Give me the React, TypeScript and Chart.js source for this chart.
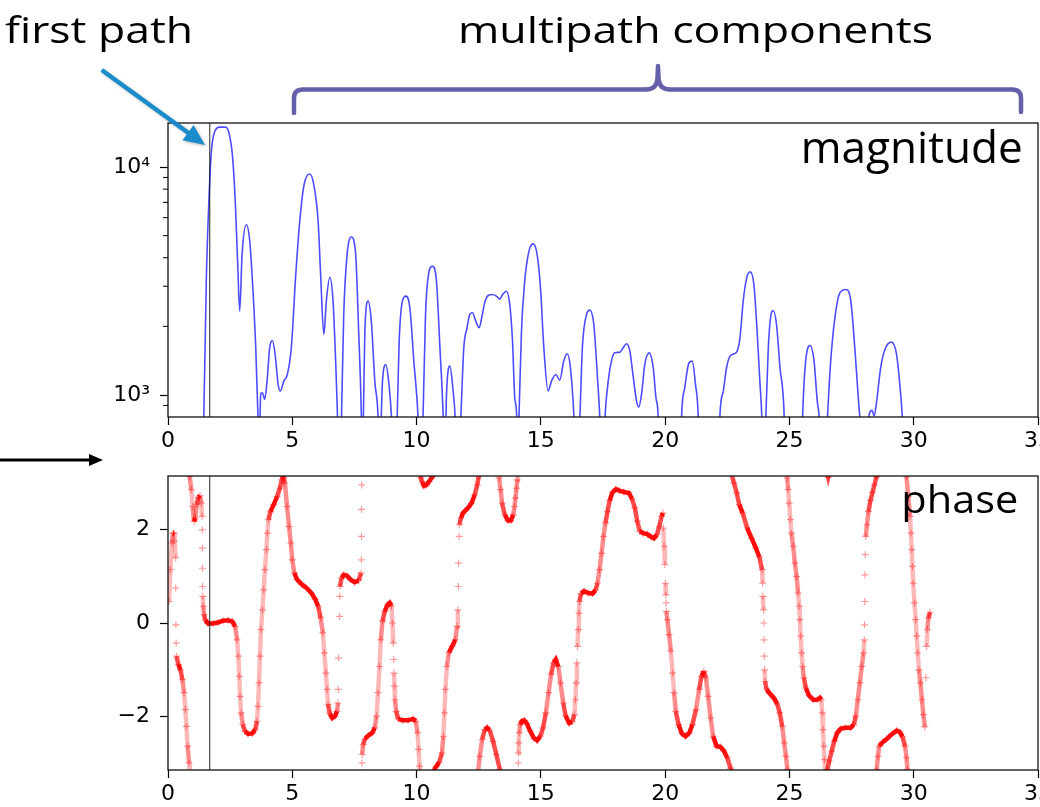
import React, { useEffect, useRef } from "react";
import { Chart, registerables } from "chart.js";

Chart.register(...registerables);
Chart.defaults.font.family = "DejaVu Sans";

// ---------- data ----------
const xTicks = [0, 5, 10, 15, 20, 25, 30, 35];
const magTicks = [1000, 10000];
const magTickLabels = ["10³", "10⁴"];
const magMinorTicks = [900, 2000, 3000, 4000, 5000, 6000, 7000, 8000, 9000];
const magRange = [801, 15600];
const phaseTicks = [-2, 0, 2];
const phaseTickLabels = ["−2", "0", "2"];
const phaseRange = [-3.1416, 3.1416];
const firstPathX = 1.68;

// magnitude |h(t)| (x = delay, y = magnitude)
const magSamples: [number, number][] = [
  [1.2, 300], [1.44, 802], [1.54, 3157], [1.65, 7310], [1.745, 11720], [1.88, 14320],
  [2.08, 14960], [2.32, 14960], [2.455, 14090], [2.59, 11320], [2.7, 7310], [2.805, 3730],
  [2.885, 2333], [2.98, 4130], [3.153, 5585], [3.29, 4720], [3.42, 2850], [3.53, 1611],
  [3.62, 802], [3.67, 600], [3.73, 1007], [3.8, 1023], [3.89, 957], [3.985, 1151],
  [4.09, 1611], [4.2, 1734], [4.31, 1507], [4.43, 1114], [4.52, 1041], [4.66, 1151],
  [4.8, 1231], [4.96, 1611], [5.14, 3376], [5.3, 5781], [5.475, 8371], [5.7, 9320],
  [5.865, 8371], [6.04, 5781], [6.14, 3376], [6.27, 1845], [6.37, 2582], [6.51, 3287],
  [6.64, 2582], [6.75, 1360], [6.82, 802], [6.91, 400], [6.98, 802], [7.07, 2256],
  [7.205, 4130], [7.38, 4932], [7.55, 4130], [7.67, 1905], [7.78, 802], [7.815, 450],
  [7.86, 802], [7.92, 1905], [8.05, 2582], [8.18, 2110], [8.32, 1151], [8.45, 802],
  [8.52, 400], [8.58, 802], [8.63, 1151], [8.76, 1360], [8.89, 1114], [8.99, 802],
  [9.1, 400], [9.22, 802], [9.3, 1722], [9.43, 2582], [9.57, 2716], [9.73, 2413],
  [9.89, 1409], [10.06, 802], [10.16, 400], [10.26, 802], [10.36, 2256], [10.48, 3376],
  [10.64, 3674], [10.8, 3157], [10.94, 1611], [11.07, 802], [11.14, 400], [11.2, 973],
  [11.34, 1339], [11.47, 1041], [11.55, 802], [11.63, 400], [11.78, 802], [11.9, 1611],
  [12.03, 1972], [12.14, 2256], [12.25, 2294], [12.38, 2110], [12.52, 1972], [12.62, 2183],
  [12.74, 2537], [12.88, 2733], [13.05, 2760], [13.21, 2716], [13.35, 2630], [13.46, 2760],
  [13.62, 2854], [13.75, 2495], [13.86, 1722], [13.95, 973], [14.03, 802], [14.06, 500],
  [14.12, 802], [14.22, 1905], [14.35, 3157], [14.52, 4273], [14.69, 4603], [14.85, 4130],
  [14.985, 2951], [15.12, 1611], [15.29, 1041], [15.43, 1151], [15.6, 1231], [15.76, 1163],
  [15.92, 1409], [16.06, 1517], [16.19, 1317], [16.33, 802], [16.43, 400], [16.57, 802],
  [16.67, 1611], [16.84, 2256], [16.97, 2356], [17.13, 2039], [17.27, 1231], [17.37, 802],
  [17.47, 400], [17.58, 802], [17.71, 1151], [17.84, 1409], [17.97, 1531], [18.18, 1541],
  [18.31, 1611], [18.45, 1678], [18.58, 1560], [18.72, 1191], [18.85, 941], [18.94, 885],
  [19.05, 1007], [19.18, 1360], [19.36, 1531], [19.52, 1317], [19.63, 973], [19.72, 802],
  [19.77, 450], [20.19, 250], [20.61, 450], [20.66, 802], [20.79, 1076], [20.96, 1386],
  [21.09, 1409], [21.22, 1114], [21.33, 802], [21.38, 450], [21.8, 250], [22.15, 450],
  [22.2, 802], [22.34, 1041], [22.47, 1317], [22.61, 1482], [22.77, 1517], [22.9, 1560],
  [23.01, 1782], [23.14, 2582], [23.28, 3265], [23.42, 3467], [23.57, 3053], [23.7, 1905],
  [23.81, 1151], [23.89, 802], [23.97, 400], [24.05, 802], [24.15, 1611], [24.24, 2183],
  [24.35, 2349], [24.48, 2039], [24.62, 1317], [24.79, 802], [24.84, 450], [25.15, 250],
  [25.48, 450], [25.53, 802], [25.64, 1360], [25.83, 1650], [25.99, 1409], [26.12, 941],
  [26.2, 802], [26.36, 400], [26.53, 802], [26.65, 1360], [26.83, 2183], [27.03, 2805],
  [27.27, 2903], [27.47, 2582], [27.63, 1611], [27.77, 973], [27.83, 802], [28.04, 400],
  [28.21, 822], [28.32, 857], [28.41, 809], [28.51, 941], [28.67, 1317], [28.87, 1611],
  [29.11, 1706], [29.31, 1507], [29.44, 1114], [29.54, 802], [29.65, 400],
];

// phase (rad); null = break where the phase wraps
const phaseSamples: ([number, number] | null)[] = [
  [0.04, 0.46], [0.095, 1.14], [0.15, 1.71], [0.2, 1.92], [0.25, 1.92], [0.27, 1.75],
  [0.31, 1.39], [0.312, 0.75], [0.32, -0.04], [0.33, -0.43], [0.34, -0.71], [0.42, -0.89],
  [0.5, -1.0], [0.58, -1.21], [0.645, -1.49], [0.7, -1.85], [0.74, -2.21], [0.79, -2.63],
  [0.85, -2.99], [0.875, -3.2],
  null,
  [0.865, 3.2], [0.87, 3.13], [0.94, 2.85], [0.99, 2.49], [1.05, 2.17], [1.1, 2.24],
  [1.156, 2.53], [1.22, 2.69], [1.29, 2.72], [1.34, 2.56], [1.37, 2.28], [1.38, 1.99],
  [1.382, 1.6], [1.385, 1.17], [1.39, 0.78], [1.4, 0.57], [1.42, 0.36], [1.45, 0.18],
  [1.5, 0.06], [1.61, -0.01], [1.81, -0.01], [2.01, 0.01], [2.21, 0.05], [2.42, 0.06],
  [2.59, 0.03], [2.7, -0.07], [2.78, -0.36], [2.83, -0.71], [2.87, -1.14], [2.9, -1.57],
  [2.94, -1.92], [3.01, -2.17], [3.09, -2.31], [3.22, -2.37], [3.39, -2.36], [3.51, -2.28],
  [3.58, -2.1], [3.62, -1.78], [3.66, -1.28], [3.7, -0.71], [3.74, -0.14], [3.8, 0.28],
  [3.85, 0.71], [3.9, 1.14], [3.96, 1.57], [4.0, 1.92], [4.04, 2.21], [4.12, 2.38],
  [4.25, 2.53], [4.39, 2.7], [4.5, 2.88], [4.58, 3.06], [4.62, 3.13], [4.66, 3.1],
  [4.7, 2.99], [4.79, 2.49], [4.87, 2.06], [4.94, 1.71], [5.0, 1.35], [5.08, 1.07],
  [5.19, 0.93], [5.37, 0.83], [5.57, 0.75], [5.77, 0.64], [5.92, 0.51], [6.04, 0.36],
  [6.14, 0.11], [6.23, -0.21], [6.29, -0.64], [6.35, -1.07], [6.4, -1.42], [6.44, -1.74],
  [6.51, -1.94], [6.61, -2.03], [6.72, -1.99], [6.8, -1.89], [6.84, -1.71], [6.85, -1.42],
  [6.86, -0.75], [6.9, 0.14], [6.91, 0.57], [6.92, 0.78], [6.98, 0.96], [7.07, 1.03],
  [7.2, 1.01], [7.34, 0.93], [7.51, 0.87], [7.67, 0.91], [7.77, 1.07], [7.78, 1.35],
  [7.785, 1.85], [7.79, 2.43], [7.795, 2.95], [7.8, 3.2],
  null,
  [7.8, -3.2], [7.805, -2.99], [7.81, -2.81], [7.85, -2.6], [7.92, -2.48], [8.05, -2.41],
  [8.21, -2.35], [8.32, -2.24], [8.39, -1.99], [8.45, -1.49], [8.51, -0.93], [8.56, -0.36],
  [8.63, 0.04], [8.72, 0.25], [8.83, 0.39], [8.92, 0.43], [8.99, 0.36], [9.03, 0.0],
  [9.06, -0.43], [9.08, -0.78], [9.09, -1.07], [9.11, -1.35], [9.13, -1.64], [9.18, -1.89],
  [9.26, -2.05], [9.43, -2.08], [9.66, -2.08], [9.86, -2.05], [9.97, -2.1], [10.04, -2.35],
  [10.08, -2.7], [10.12, -3.06], [10.135, -3.2],
  null,
  [10.135, 3.2], [10.17, 3.1], [10.22, 3.02], [10.3, 2.93], [10.4, 2.95], [10.5, 3.02],
  [10.64, 3.13], [10.66, 3.2],
  null,
  [10.66, -3.2], [10.77, -3.08], [10.91, -2.98], [11.02, -2.78], [11.08, -2.42], [11.12, -1.92],
  [11.16, -1.42], [11.22, -0.93], [11.3, -0.63], [11.43, -0.5], [11.56, -0.36], [11.63, -0.07],
  [11.66, 0.28], [11.68, 0.78], [11.69, 1.28], [11.71, 1.85], [11.72, 2.1], [11.78, 2.24],
  [11.87, 2.35], [12.07, 2.46], [12.21, 2.56], [12.34, 2.74], [12.44, 2.95], [12.5, 3.13],
  [12.52, 3.2],
  null,
  [12.47, -3.2], [12.54, -2.85], [12.64, -2.49], [12.74, -2.28], [12.84, -2.24], [12.94, -2.29],
  [13.08, -2.53], [13.21, -2.81], [13.35, -3.13], [13.36, -3.2],
  null,
  [13.31, 3.2], [13.32, 3.1], [13.38, 2.85], [13.44, 2.56], [13.55, 2.31], [13.68, 2.19],
  [13.79, 2.19], [13.89, 2.31], [13.94, 2.49], [13.98, 2.67], [14.02, 2.88], [14.05, 3.06],
  [14.07, 3.2],
  null,
  [14.08, -3.2], [14.09, -2.99], [14.095, -2.78], [14.11, -2.56], [14.13, -2.35], [14.17, -2.17],
  [14.23, -2.1], [14.33, -2.08], [14.44, -2.15], [14.57, -2.31], [14.72, -2.46], [14.85, -2.51],
  [14.98, -2.42], [15.09, -2.24], [15.2, -1.92], [15.31, -1.49], [15.41, -1.1], [15.51, -0.85],
  [15.6, -0.78], [15.7, -0.93], [15.79, -1.28], [15.9, -1.71], [16.0, -1.99], [16.14, -2.14],
  [16.26, -2.11], [16.35, -1.96], [16.39, -1.64], [16.42, -1.28], [16.45, -0.85], [16.47, -0.5],
  [16.5, -0.14], [16.53, 0.21], [16.55, 0.46], [16.62, 0.63], [16.74, 0.68], [16.9, 0.64],
  [17.08, 0.63], [17.2, 0.7], [17.28, 0.85], [17.36, 1.14], [17.44, 1.49], [17.52, 1.85],
  [17.6, 2.14], [17.68, 2.38], [17.77, 2.62], [17.88, 2.79], [18.02, 2.86], [18.15, 2.83],
  [18.34, 2.8], [18.54, 2.78], [18.67, 2.65], [18.78, 2.46], [18.88, 2.17], [18.98, 1.96],
  [19.11, 1.92], [19.28, 1.9], [19.43, 1.84], [19.55, 1.81], [19.67, 1.89], [19.76, 2.06],
  [19.86, 2.28], [19.91, 2.35], [19.93, 2.03], [19.96, 1.64], [19.99, 1.25], [20.01, 0.85],
  [20.03, 0.6], [20.04, 0.43], [20.05, 0.25], [20.09, 0.07], [20.16, -0.25], [20.23, -0.6],
  [20.3, -1.07], [20.36, -1.49], [20.43, -1.89], [20.54, -2.17], [20.67, -2.36], [20.82, -2.42],
  [20.97, -2.35], [21.1, -2.17], [21.24, -1.85], [21.37, -1.42], [21.46, -1.14], [21.56, -1.03],
  [21.64, -1.17], [21.73, -1.57], [21.83, -2.03], [21.93, -2.42], [22.07, -2.63], [22.23, -2.65],
  [22.36, -2.73], [22.5, -2.88], [22.63, -3.1], [22.68, -3.2],
  null,
  [22.66, 3.2], [22.77, 2.99], [22.88, 2.78], [22.98, 2.53], [23.12, 2.35], [23.3, 2.03],
  [23.48, 1.81], [23.65, 1.6], [23.79, 1.41], [23.9, 1.14], [23.92, 0.85], [23.93, 0.57],
  [23.96, 0.28], [23.97, 0.0], [23.98, -0.36], [23.99, -0.71], [24.0, -1.0], [24.02, -1.25],
  [24.08, -1.42], [24.21, -1.51], [24.37, -1.6], [24.51, -1.73], [24.61, -1.92], [24.71, -2.21],
  [24.79, -2.56], [24.86, -2.85], [24.92, -3.13], [24.93, -3.2],
  null,
  [24.9, 3.2], [24.91, 3.1], [24.95, 2.85], [24.99, 2.56], [25.04, 2.21], [25.08, 1.92],
  [25.15, 1.64], [25.22, 1.28], [25.29, 0.99], [25.35, 0.64], [25.39, 0.36], [25.42, 0.07],
  [25.45, -0.28], [25.49, -0.64], [25.53, -0.93], [25.58, -1.17], [25.66, -1.39], [25.79, -1.55],
  [25.96, -1.64], [26.12, -1.64], [26.23, -1.6], [26.28, -1.64], [26.32, -1.92], [26.35, -2.28],
  [26.38, -2.63], [26.41, -2.92], [26.45, -3.2],
  null,
  [26.52, 3.2], [26.56, 3.11], [26.6, 3.2],
  null,
  [26.5, -3.2], [26.53, -3.13], [26.6, -2.95], [26.7, -2.74], [26.8, -2.53], [26.92, -2.35],
  [27.06, -2.26], [27.23, -2.24], [27.46, -2.24], [27.59, -2.17], [27.67, -1.99], [27.75, -1.64],
  [27.83, -1.28], [27.91, -0.93], [27.98, -0.64], [28.01, -0.36], [28.02, -0.04], [28.03, 0.46],
  [28.04, 1.03], [28.05, 1.46], [28.07, 1.85], [28.12, 2.1], [28.18, 2.38], [28.26, 2.62],
  [28.34, 2.79], [28.42, 2.95], [28.5, 3.13], [28.52, 3.2],
  null,
  [28.5, -3.2], [28.51, -3.13], [28.56, -2.85], [28.61, -2.63], [28.75, -2.55], [28.91, -2.48],
  [29.11, -2.38], [29.31, -2.3], [29.44, -2.33], [29.55, -2.43], [29.65, -2.63], [29.71, -2.88],
  [29.75, -3.13], [29.76, -3.2],
  null,
  [29.7, 3.2], [29.71, 3.12], [29.78, 2.7], [29.85, 2.28], [29.89, 1.92], [29.92, 1.57],
  [29.95, 1.21], [29.98, 0.85], [30.03, 0.43], [30.08, 0.07], [30.12, -0.28], [30.16, -0.64],
  [30.21, -1.0], [30.27, -1.28], [30.33, -1.64], [30.39, -1.96], [30.45, -2.22], [30.49, -1.17],
  [30.52, -0.5], [30.55, -0.14], [30.59, 0.11], [30.66, 0.23],
];

// ---------- layout / style ----------
const W = 1040;
const TOP_H = 448;
const BOT_H = 359;
const AREA_L = 168;
const AREA_R = 1038;
const TOP_AREA_T = 123;
const TOP_AREA_B = 417;
const BOT_AREA_T = 476 - TOP_H;
const BOT_AREA_B = 770 - TOP_H;
const TICK_FONT = { family: "DejaVu Sans", size: 22 };
const ANNOT_FONT = '"Open Sans", "Noto Sans", sans-serif';

function fitText(ctx: CanvasRenderingContext2D, text: string, size: number, x: number, baseline: number, width: number, alignRight: boolean) {
  ctx.save();
  ctx.font = `${size}px ${ANNOT_FONT}`;
  const w = ctx.measureText(text).width;
  const sx = width / w;
  const left = alignRight ? x - width : x;
  ctx.translate(left, baseline);
  ctx.scale(sx, 1);
  ctx.fillStyle = "#000";
  ctx.textAlign = "left";
  ctx.textBaseline = "alphabetic";
  ctx.fillText(text, 0, 0);
  ctx.restore();
}

function drawArrow(ctx: CanvasRenderingContext2D, x0: number, y0: number, x1: number, y1: number, color: string, lw: number, headLen: number, headW: number) {
  const a = Math.atan2(y1 - y0, x1 - x0);
  const bx = x1 - headLen * Math.cos(a);
  const by = y1 - headLen * Math.sin(a);
  ctx.save();
  ctx.strokeStyle = color;
  ctx.fillStyle = color;
  ctx.lineWidth = lw;
  ctx.beginPath();
  ctx.moveTo(x0, y0);
  ctx.lineTo(bx + Math.cos(a), by + Math.sin(a));
  ctx.stroke();
  ctx.beginPath();
  ctx.moveTo(x1, y1);
  ctx.lineTo(bx - (headW / 2) * Math.sin(a), by + (headW / 2) * Math.cos(a));
  ctx.lineTo(bx + (headW / 2) * Math.sin(a), by - (headW / 2) * Math.cos(a));
  ctx.closePath();
  ctx.fill();
  ctx.restore();
}

function drawFrame(chart: any) {
  const { ctx, chartArea: a } = chart;
  ctx.save();
  // first-path marker line
  const fx = chart.scales.x.getPixelForValue(firstPathX);
  ctx.strokeStyle = "rgba(0,0,0,0.85)";
  ctx.lineWidth = 1;
  ctx.beginPath();
  ctx.moveTo(fx, a.top);
  ctx.lineTo(fx, a.bottom);
  ctx.stroke();
  // spines
  ctx.strokeStyle = "#111";
  ctx.lineWidth = 1.3;
  ctx.strokeRect(a.left, a.top, a.right - a.left, a.bottom - a.top);
  ctx.restore();
}

const topPlugin = {
  id: "topAnnotations",
  afterDraw(chart: any) {
    const { ctx, chartArea: a } = chart;
    drawFrame(chart);
    // minor log ticks
    ctx.save();
    ctx.strokeStyle = "#000";
    ctx.lineWidth = 1;
    for (const v of magMinorTicks) {
      const y = chart.scales.y.getPixelForValue(v);
      if (y < a.top || y > a.bottom) continue;
      ctx.beginPath();
      ctx.moveTo(a.left - 5, y);
      ctx.lineTo(a.left, y);
      ctx.stroke();
    }
    ctx.restore();
    // texts
    fitText(ctx, "first path", 37, 5, 42.7, 188, false);
    fitText(ctx, "multipath components", 37, 458, 43.3, 475, false);
    fitText(ctx, "magnitude", 44, 1022.7, 163.3, 222, true);
    // blue arrow
    ctx.save();
    ctx.shadowColor = "rgba(0,0,0,0.25)";
    ctx.shadowBlur = 3;
    ctx.shadowOffsetX = 1.5;
    ctx.shadowOffsetY = 1.5;
    drawArrow(ctx, 101.7, 70, 205, 145, "#1a8bcb", 4.5, 21, 19);
    ctx.restore();
    // bracket
    ctx.save();
    ctx.strokeStyle = "#6660aa";
    ctx.lineWidth = 4.5;
    ctx.lineCap = "round";
    ctx.lineJoin = "round";
    ctx.beginPath();
    ctx.moveTo(294, 113);
    ctx.lineTo(294, 98);
    ctx.quadraticCurveTo(294, 89.5, 303, 89.5);
    ctx.lineTo(646, 89.5);
    ctx.quadraticCurveTo(657, 89.5, 657.5, 78);
    ctx.lineTo(658, 66);
    ctx.lineTo(658.5, 78);
    ctx.quadraticCurveTo(659, 89.5, 670, 89.5);
    ctx.lineTo(1012, 89.5);
    ctx.quadraticCurveTo(1021, 89.5, 1021, 98);
    ctx.lineTo(1021, 112);
    ctx.stroke();
    ctx.restore();
  },
};

const bottomPlugin = {
  id: "bottomAnnotations",
  afterDraw(chart: any) {
    const { ctx } = chart;
    drawFrame(chart);
    fitText(ctx, "phase", 38, 1018.3, 513.3 - TOP_H, 117, true);
    drawArrow(ctx, 0, 460 - TOP_H, 103, 460 - TOP_H, "#000", 3, 14, 12);
  },
};

function segColor(ctx: any) {
  const dx = Math.abs(ctx.p1.x - ctx.p0.x);
  const dy = Math.abs(ctx.p1.y - ctx.p0.y);
  const s = dy / Math.max(dx, 0.01);
  let a: number;
  if (s <= 3) a = 0.95;
  else if (s <= 6) a = 0.7;
  else if (s <= 12) a = 0.45;
  else if (s <= 28) a = 0.28;
  else a = 0;
  return `rgba(255,0,0,${a})`;
}

function xScale(height: number) {
  return {
    type: "linear" as const,
    min: 0,
    max: 35,
    afterBuildTicks: (s: any) => {
      s.ticks = xTicks.map((v) => ({ value: v }));
    },
    afterFit: (s: any) => {
      s.height = height;
      s.paddingLeft = 0;
      s.paddingRight = 0;
    },
    ticks: { font: TICK_FONT, color: "#000", padding: 3, maxRotation: 0, autoSkip: false, callback: (v: any) => String(v) },
    grid: { drawOnChartArea: false, drawTicks: true, tickLength: 8, tickColor: "#000", tickWidth: 1.2 },
    border: { display: false },
  };
}

export default function App() {
  const topRef = useRef<HTMLCanvasElement>(null);
  const botRef = useRef<HTMLCanvasElement>(null);

  useEffect(() => {
    const magData = magSamples.map(([x, y]) => ({ x, y }));
    let lastX = 0;
    const phaseData = phaseSamples.map((p) => {
      if (p) {
        lastX = p[0];
        return { x: p[0], y: p[1] as number | null };
      }
      return { x: lastX, y: null as number | null };
    });

    const top = new Chart(topRef.current!, {
      type: "line",
      data: {
        datasets: [
          {
            data: magData,
            borderColor: "rgba(0,0,255,0.7)",
            borderWidth: 1.6,
            pointRadius: 0,
            cubicInterpolationMode: "monotone",
            fill: false,
          },
        ],
      },
      options: {
        responsive: false,
        maintainAspectRatio: false,
        animation: false,
        devicePixelRatio: 1,
        layout: { padding: { left: 0, right: W - AREA_R, top: TOP_AREA_T, bottom: 0 }, autoPadding: false },
        plugins: { legend: { display: false }, tooltip: { enabled: false }, title: { display: false } },
        events: [],
        scales: {
          x: xScale(TOP_H - TOP_AREA_B),
          y: {
            type: "logarithmic",
            min: magRange[0],
            max: magRange[1],
            afterBuildTicks: (s: any) => {
              s.ticks = magTicks.map((v) => ({ value: v }));
            },
            afterFit: (s: any) => {
              s.width = AREA_L;
              s.paddingTop = 0;
              s.paddingBottom = 0;
            },
            ticks: {
              font: TICK_FONT,
              color: "#000",
              padding: 10,
              callback: (_v: any, i: number) => magTickLabels[i],
            },
            grid: { drawOnChartArea: false, drawTicks: true, tickLength: 8, tickColor: "#000", tickWidth: 1.2 },
            border: { display: false },
          },
        },
      },
      plugins: [topPlugin],
    } as any);

    const bottom = new Chart(botRef.current!, {
      type: "line",
      data: {
        datasets: [
          {
            data: phaseData,
            borderColor: "rgba(255,0,0,0.95)",
            borderWidth: 4.5,
            tension: 0,
            spanGaps: false,
            segment: { borderColor: segColor },
            pointStyle: "cross",
            pointRadius: 3.5,
            pointBorderWidth: 1.2,
            pointBorderColor: "rgba(255,0,0,0.4)",
            pointBackgroundColor: "rgba(255,0,0,0.4)",
            fill: false,
          },
        ],
      },
      options: {
        responsive: false,
        maintainAspectRatio: false,
        animation: false,
        devicePixelRatio: 1,
        layout: { padding: { left: 0, right: W - AREA_R, top: BOT_AREA_T, bottom: 0 }, autoPadding: false },
        plugins: { legend: { display: false }, tooltip: { enabled: false }, title: { display: false } },
        events: [],
        scales: {
          x: xScale(BOT_H - BOT_AREA_B),
          y: {
            type: "linear",
            min: phaseRange[0],
            max: phaseRange[1],
            afterBuildTicks: (s: any) => {
              s.ticks = phaseTicks.map((v) => ({ value: v }));
            },
            afterFit: (s: any) => {
              s.width = AREA_L;
              s.paddingTop = 0;
              s.paddingBottom = 0;
            },
            ticks: {
              font: TICK_FONT,
              color: "#000",
              padding: 10,
              callback: (_v: any, i: number) => phaseTickLabels[i],
            },
            grid: { drawOnChartArea: false, drawTicks: true, tickLength: 8, tickColor: "#000", tickWidth: 1.2 },
            border: { display: false },
          },
        },
      },
      plugins: [bottomPlugin],
    } as any);

    return () => {
      top.destroy();
      bottom.destroy();
    };
  }, []);

  return (
    <div style={{ position: "absolute", left: 0, top: 0, width: W, height: TOP_H + BOT_H, overflow: "hidden", background: "#fff" }}>
      <canvas ref={topRef} width={W} height={TOP_H} style={{ position: "absolute", left: 0, top: 0, width: W, height: TOP_H }} />
      <canvas ref={botRef} width={W} height={BOT_H} style={{ position: "absolute", left: 0, top: TOP_H, width: W, height: BOT_H }} />
    </div>
  );
}
